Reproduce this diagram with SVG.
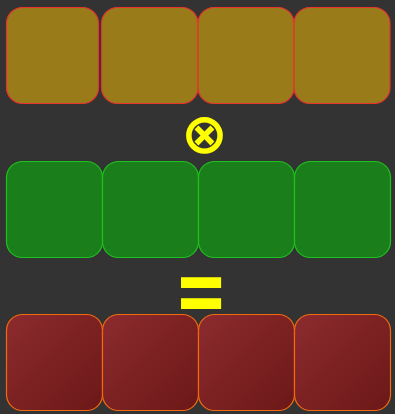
<svg xmlns="http://www.w3.org/2000/svg" width="395" height="414" viewBox="0 0 395 414">
<defs>
<linearGradient id="redg" x1="0" y1="0" x2="1" y2="1">
<stop offset="0" stop-color="#8c2b2e"/>
<stop offset="1" stop-color="#6c1818"/>
</linearGradient>
<style>
.a{fill:#997b1a;stroke:#e8332e;stroke-width:1.2}
.b{fill:#1a7f1a;stroke:#1fc01f;stroke-width:1.2}
.c{fill:url(#redg);stroke:#f06a10;stroke-width:1.2}
.op{fill:#ffff00;font-family:"DejaVu Sans",sans-serif;font-weight:bold;text-anchor:middle}
</style>
</defs>
<rect width="395" height="414" fill="#333333"/>
<g id="row1">
<rect id="a1" class="a" x="6.5" y="7.5" width="92" height="96" rx="16"/>
<rect id="a2" class="a" x="101.5" y="7.5" width="96.5" height="96" rx="16"/>
<rect id="a3" class="a" x="198" y="7.5" width="96" height="96" rx="16"/>
<rect id="a4" class="a" x="294" y="7.5" width="96" height="96" rx="16"/>
</g>
<g id="row2">
<rect id="b1" class="b" x="6.5" y="161.5" width="96" height="96" rx="16"/>
<rect id="b2" class="b" x="102.5" y="161.5" width="96" height="96" rx="16"/>
<rect id="b3" class="b" x="198.5" y="161.5" width="96" height="96" rx="16"/>
<rect id="b4" class="b" x="294.5" y="161.5" width="96" height="96" rx="16"/>
</g>
<g id="row3">
<rect id="c1" class="c" x="6.5" y="314.5" width="96" height="96" rx="16"/>
<rect id="c2" class="c" x="102.5" y="314.5" width="96" height="96" rx="16"/>
<rect id="c3" class="c" x="198.5" y="314.5" width="96" height="96" rx="16"/>
<rect id="c4" class="c" x="294.5" y="314.5" width="96" height="96" rx="16"/>
</g>
<text id="otimes" class="op" x="204.5" y="153" font-size="56">⊗</text>
<text id="equals" class="op" x="201" y="313.5" font-size="64" transform="translate(0,294.5) scale(1,1.45) translate(0,-294.5)">=</text>
</svg>
